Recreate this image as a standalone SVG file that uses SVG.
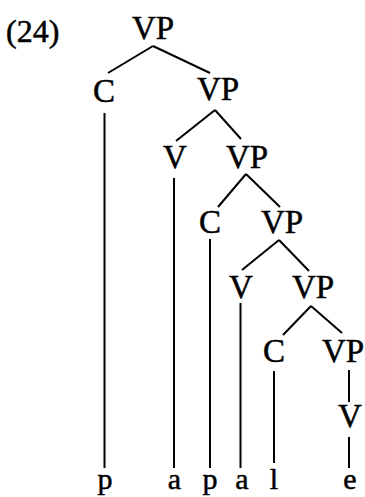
<svg xmlns="http://www.w3.org/2000/svg" width="365" height="497" viewBox="0 0 365 497">
<style>
text{font-family:"Liberation Serif","Times New Roman",serif;font-size:33px;fill:#000;stroke:#000;stroke-width:0.5;text-anchor:middle}
.lab{text-anchor:start;font-size:32px}
.leaf{font-size:30px}
.e line{stroke:#000;stroke-width:2;stroke-linecap:butt}
</style>
<rect width="365" height="497" fill="#fff"/>
<text class="lab" x="6" y="42">(24)</text>
<g class="e" id="connectors">
<line x1="153" y1="46" x2="108" y2="73"/>
<line x1="153" y1="46" x2="210" y2="73"/>
<line x1="215" y1="110" x2="176" y2="141"/>
<line x1="215" y1="110" x2="241" y2="139"/>
<line x1="246" y1="174" x2="218" y2="207"/>
<line x1="246" y1="174" x2="280" y2="207"/>
<line x1="279" y1="240" x2="242" y2="270"/>
<line x1="279" y1="240" x2="309" y2="271"/>
<line x1="311" y1="306" x2="283" y2="335"/>
<line x1="311" y1="306" x2="342" y2="333"/>
<line x1="104.5" y1="113" x2="104.5" y2="468"/>
<line x1="174" y1="178" x2="174" y2="468"/>
<line x1="210" y1="239" x2="210" y2="468"/>
<line x1="240.5" y1="303" x2="240.5" y2="468"/>
<line x1="274" y1="371" x2="274" y2="463"/>
<line x1="349" y1="370" x2="349" y2="402"/>
<line x1="349" y1="437" x2="349" y2="468"/>
</g>
<g id="vp0"><text x="153" y="39">VP</text></g>
<g id="c1"><text x="104" y="102">C</text></g>
<g id="vp1"><text x="218" y="100">VP</text></g>
<g id="v1"><text x="175" y="168">V</text></g>
<g id="vp2"><text x="247" y="168">VP</text></g>
<g id="c2"><text x="210" y="233">C</text></g>
<g id="vp3"><text x="282" y="233">VP</text></g>
<g id="v3"><text x="241" y="298">V</text></g>
<g id="vp4"><text x="313" y="298">VP</text></g>
<g id="c4"><text x="274" y="362">C</text></g>
<g id="vp5"><text x="343" y="362">VP</text></g>
<g id="v5"><text x="350" y="427">V</text></g>
<g id="leaf-p1"><text class="leaf" x="105" y="489">p</text></g>
<g id="leaf-a1"><text class="leaf" x="174.5" y="489">a</text></g>
<g id="leaf-p2"><text class="leaf" x="210" y="489">p</text></g>
<g id="leaf-a2"><text class="leaf" x="242" y="489">a</text></g>
<g id="leaf-l"><text class="leaf" x="274" y="489">l</text></g>
<g id="leaf-e"><text class="leaf" x="350" y="489">e</text></g>
</svg>
